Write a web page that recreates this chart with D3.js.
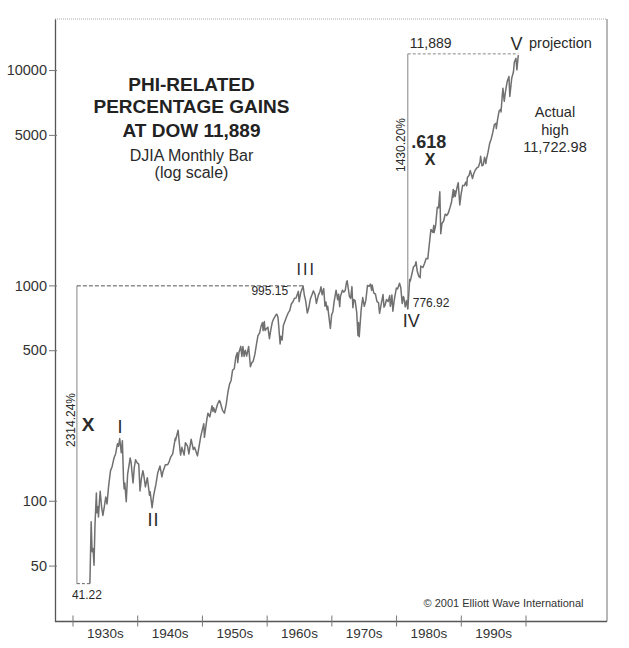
<!DOCTYPE html>
<html>
<head>
<meta charset="utf-8">
<script src="https://cdn.jsdelivr.net/npm/d3@7"></script>
<style>
  body { margin: 0; background: #fff; }
  svg { display: block; font-family: "Liberation Sans", Arial, Helvetica, sans-serif; }
</style>
</head>
<body>
<svg id="chart" width="629" height="648"></svg>
<script>

// DJIA at roughly quarterly steps: [year, value]
var dow1930s = [
    [1932.50, 41.2], [1932.70, 79.9], [1932.85, 58], [1933.00, 60], [1933.15, 50.2],
    [1933.30, 77], [1933.52, 108.7], [1933.60, 88], [1933.75, 94], [1933.85, 84],
    [1934.00, 99], [1934.12, 110.7], [1934.35, 93], [1934.55, 85.5], [1934.75, 93],
    [1935.00, 104], [1935.20, 96.7], [1935.45, 117], [1935.75, 138], [1936.00, 144],
    [1936.30, 158], [1936.55, 165], [1936.85, 184], [1937.00, 179], [1937.20, 194.4],
    [1937.45, 167], [1937.62, 190], [1937.80, 125], [1937.90, 113.6], [1938.00, 121],
    [1938.23, 99], [1938.45, 133], [1938.85, 158], [1939.00, 150], [1939.30, 121],
    [1939.50, 143], [1939.70, 155], [1939.95, 150]
];
var dow1940s = [
    [1940.20, 148], [1940.40, 111], [1940.60, 126], [1940.85, 138], [1941.00, 131],
    [1941.25, 116], [1941.55, 128], [1941.90, 106], [1942.00, 110], [1942.30, 92.9],
    [1942.55, 106], [1942.90, 119], [1943.20, 135], [1943.55, 145], [1943.85, 129],
    [1944.00, 136], [1944.40, 147], [1944.75, 147], [1945.00, 152], [1945.25, 160],
    [1945.55, 165], [1945.95, 195], [1946.00, 191], [1946.40, 212.5], [1946.70, 172],
    [1946.80, 163], [1947.00, 177], [1947.35, 163], [1947.55, 186], [1947.90, 179],
    [1948.10, 165], [1948.45, 193], [1948.80, 173], [1949.00, 177], [1949.45, 161.6],
    [1949.75, 182], [1949.99, 200]
];
var dow1950s = [
    [1950.45, 228], [1950.55, 197], [1950.90, 235], [1951.10, 255], [1951.40, 245],
    [1951.75, 276], [1951.90, 260], [1952.00, 270], [1952.25, 257], [1952.60, 280],
    [1952.90, 292], [1953.00, 290], [1953.40, 263], [1953.70, 255], [1953.99, 281],
    [1954.25, 319], [1954.50, 347], [1954.75, 362], [1954.99, 404], [1955.25, 410],
    [1955.50, 465], [1955.72, 487], [1955.80, 438], [1955.99, 488], [1956.28, 521],
    [1956.45, 468], [1956.62, 520], [1956.80, 468], [1956.99, 500], [1957.20, 470],
    [1957.52, 520], [1957.80, 419], [1957.99, 436], [1958.25, 446], [1958.50, 478],
    [1958.75, 532], [1958.99, 584], [1959.25, 602], [1959.50, 650], [1959.70, 672],
    [1959.80, 617], [1959.99, 679]
];
var dow1960s = [
    [1960.10, 618], [1960.35, 630], [1960.55, 640], [1960.80, 566], [1960.99, 616],
    [1961.25, 676], [1961.50, 703], [1961.90, 735], [1962.00, 731], [1962.15, 710],
    [1962.48, 535], [1962.60, 580], [1962.80, 558], [1962.99, 652], [1963.25, 683],
    [1963.50, 715], [1963.75, 745], [1963.99, 763], [1964.25, 820], [1964.50, 840],
    [1964.75, 872], [1964.99, 874], [1965.35, 938], [1965.48, 840], [1965.75, 930],
    [1965.99, 969], [1966.10, 995], [1966.30, 900], [1966.50, 850], [1966.77, 744],
    [1966.99, 785], [1967.25, 865], [1967.50, 904], [1967.72, 943], [1967.99, 905],
    [1968.20, 825], [1968.50, 899], [1968.75, 935], [1968.92, 985], [1969.10, 905],
    [1969.35, 968], [1969.55, 801], [1969.70, 837], [1969.90, 770], [1969.99, 800]
];
var dow1970s = [
    [1970.10, 745], [1970.40, 631], [1970.60, 730], [1970.80, 755], [1970.99, 839],
    [1971.30, 950], [1971.55, 858], [1971.70, 910], [1971.87, 797], [1971.99, 890],
    [1972.30, 950], [1972.50, 930], [1972.75, 950], [1972.95, 1036], [1973.05, 1051],
    [1973.40, 890], [1973.60, 870], [1973.80, 987], [1973.95, 788], [1974.10, 860],
    [1974.30, 850], [1974.55, 750], [1974.75, 585], [1974.83, 673], [1974.95, 578],
    [1975.25, 770], [1975.50, 878], [1975.75, 800], [1975.99, 852], [1976.25, 1000],
    [1976.50, 990], [1976.72, 1014], [1976.90, 950], [1976.99, 1004], [1977.25, 920],
    [1977.50, 912], [1977.75, 840], [1977.99, 831], [1978.15, 742], [1978.45, 830],
    [1978.70, 907], [1978.85, 792], [1978.99, 805], [1979.25, 860], [1979.50, 841],
    [1979.75, 897], [1979.85, 800], [1979.99, 838]
];
var dow1980s = [
    [1980.10, 903], [1980.25, 759], [1980.50, 867], [1980.80, 972], [1980.99, 963],
    [1981.30, 1024], [1981.50, 976], [1981.72, 824], [1981.90, 888], [1981.99, 875],
    [1982.20, 795], [1982.40, 850], [1982.60, 777], [1982.75, 903], [1982.90, 1065],
    [1982.99, 1046], [1983.25, 1130], [1983.50, 1220], [1983.75, 1235], [1983.90, 1287],
    [1984.10, 1160], [1984.35, 1100], [1984.55, 1086], [1984.65, 1230], [1984.99, 1211],
    [1985.25, 1266], [1985.50, 1335], [1985.75, 1328], [1985.99, 1546], [1986.25, 1818],
    [1986.55, 1763], [1986.70, 1900], [1986.75, 1760], [1986.99, 1896], [1987.25, 2305],
    [1987.45, 2290], [1987.65, 2722], [1987.80, 1738], [1987.99, 1939], [1988.25, 1990],
    [1988.50, 2141], [1988.75, 2112], [1988.99, 2169], [1989.25, 2293], [1989.50, 2440],
    [1989.77, 2791], [1989.80, 2570], [1989.99, 2753]
];
var dow1990s = [
    [1990.08, 2590], [1990.40, 2880], [1990.55, 3000], [1990.80, 2365], [1990.99, 2634],
    [1991.25, 2914], [1991.50, 2906], [1991.75, 3017], [1991.90, 2900], [1991.99, 3169],
    [1992.25, 3236], [1992.45, 3413], [1992.80, 3136], [1992.99, 3301], [1993.25, 3436],
    [1993.50, 3516], [1993.75, 3555], [1993.99, 3754], [1994.08, 3978], [1994.30, 3590],
    [1994.50, 3624], [1994.70, 3940], [1994.90, 3680], [1994.99, 3834], [1995.25, 4157],
    [1995.50, 4556], [1995.75, 4789], [1995.99, 5117], [1996.25, 5587], [1996.50, 5655],
    [1996.55, 5350], [1996.75, 5882], [1996.99, 6448], [1997.25, 6583], [1997.30, 6390],
    [1997.50, 7673], [1997.60, 8223], [1997.80, 7161], [1997.99, 7908], [1998.25, 8800],
    [1998.55, 9337], [1998.68, 7539], [1998.99, 9181], [1999.25, 9786], [1999.40, 10900],
    [1999.65, 11326], [1999.80, 10019], [1999.99, 11497], [2000.04, 11723]
];

var yTicks = [50, 100, 500, 1000, 5000, 10000];
var decadeEdges = [1930, 1940, 1950, 1960, 1970, 1980, 1990, 2000];
var decadeLabels = ["1930s", "1940s", "1950s", "1960s", "1970s", "1980s", "1990s"];

// wave pivots: date and level
var pivotDates = { low1932: 1932.5, top1966: 1966.1, low1982: 1982.6, top2000: 2000.04 };
var pivotLevels = { low1932: 41.22, top1966: 995.15, low1982: 776.92, target: 11889 };

var titleLines = ["PHI-RELATED", "PERCENTAGE GAINS", "AT DOW 11,889"];
var subLines = ["DJIA Monthly Bar", "(log scale)"];
var actualLines = ["Actual", "high", "11,722.98"];

var frame = { left: 55, right: 607, top: 19, bottom: 621.5 };

var svg = d3.select("#chart");

var x = d3.scaleLinear().domain([1927, 2014]).range([frame.left, frame.right]);
var xDecade = d3.scaleLinear().domain([1930, 2000]).range([73, 526]);
var y = d3.scaleLog().domain([27.5, 17260]).range([frame.bottom, frame.top]);

var dow = [].concat(dow1930s, dow1940s, dow1950s, dow1960s, dow1970s, dow1980s, dow1990s);

// frame: dotted top, plain right
svg.append("line")
    .attr("x1", frame.left).attr("x2", frame.right)
    .attr("y1", frame.top).attr("y2", frame.top)
    .attr("stroke", "#aaa").attr("stroke-dasharray", "1,1");
svg.append("line")
    .attr("x1", frame.right).attr("x2", frame.right)
    .attr("y1", frame.top).attr("y2", frame.bottom)
    .attr("stroke", "#888").attr("stroke-width", 1.2);

// y axis
var yAxis = svg.append("g")
    .attr("transform", "translate(" + frame.left + ",0)")
    .call(d3.axisLeft(y).tickValues(yTicks).tickFormat(d3.format("d")).tickSize(6).tickPadding(2).tickSizeOuter(0));
yAxis.select(".domain").attr("stroke", "#555").attr("stroke-width", 1.3);
yAxis.selectAll(".tick line").attr("x1", 2).attr("stroke", "#777");
yAxis.selectAll(".tick text").attr("font-size", 14.5).attr("fill", "#333")
    .attr("font-family", "Liberation Sans, Arial, sans-serif");

// x axis: decade ticks crossing the baseline, labels in between
svg.append("line")
    .attr("x1", frame.left).attr("x2", frame.right)
    .attr("y1", frame.bottom).attr("y2", frame.bottom)
    .attr("stroke", "#555").attr("stroke-width", 1.3);
svg.selectAll(".dtick").data(decadeEdges).enter().append("line")
    .attr("x1", function(d) { return xDecade(d); })
    .attr("x2", function(d) { return xDecade(d); })
    .attr("y1", frame.bottom - 6).attr("y2", frame.bottom + 5)
    .attr("stroke", "#777");
svg.selectAll(".dlabel").data(decadeLabels).enter().append("text")
    .attr("x", function(d, i) { return (xDecade(decadeEdges[i]) + xDecade(decadeEdges[i + 1])) / 2; })
    .attr("y", 637.5)
    .attr("text-anchor", "middle")
    .attr("font-size", 13.5).attr("fill", "#333")
    .text(function(d) { return d; });

// brackets
var xL = x(pivotDates.low1932) - 13;
svg.append("line")
    .attr("x1", xL).attr("x2", xL)
    .attr("y1", y(pivotLevels.top1966)).attr("y2", y(pivotLevels.low1932))
    .attr("stroke", "#999").attr("stroke-width", 1.2);
svg.append("line")
    .attr("x1", xL).attr("x2", x(pivotDates.top1966))
    .attr("y1", y(pivotLevels.top1966)).attr("y2", y(pivotLevels.top1966))
    .attr("stroke", "#555").attr("stroke-dasharray", "4,2");
svg.append("line")
    .attr("x1", xL).attr("x2", x(pivotDates.low1932))
    .attr("y1", y(pivotLevels.low1932)).attr("y2", y(pivotLevels.low1932))
    .attr("stroke", "#666").attr("stroke-dasharray", "3,2");

var xR = x(pivotDates.low1982);
svg.append("line")
    .attr("x1", xR).attr("x2", xR)
    .attr("y1", y(pivotLevels.target)).attr("y2", y(pivotLevels.low1982))
    .attr("stroke", "#999").attr("stroke-width", 1.2);
svg.append("line")
    .attr("x1", xR).attr("x2", x(pivotDates.top2000))
    .attr("y1", y(pivotLevels.target)).attr("y2", y(pivotLevels.target))
    .attr("stroke", "#888").attr("stroke-dasharray", "3,2");

// the Dow
var line = d3.line()
    .x(function(d) { return x(d[0]); })
    .y(function(d) { return y(d[1]); });
svg.append("path")
    .datum(dow)
    .attr("d", line)
    .attr("fill", "none")
    .attr("stroke", "#707070")
    .attr("stroke-width", 1.5)
    .attr("stroke-linejoin", "round");

// text
function label(txt, px, py, opts) {
    opts = opts || {};
    var t = svg.append("text")
        .attr("x", px).attr("y", py)
        .attr("font-size", opts.size || 12)
        .attr("font-weight", opts.bold ? "bold" : "normal")
        .attr("text-anchor", opts.anchor || "start")
        .attr("fill", opts.fill || "#2a2a2a")
        .text(txt);
    if (opts.spacing) t.attr("letter-spacing", opts.spacing);
    if (opts.rotate) t.attr("transform", "rotate(-90," + px + "," + py + ")");
    return t;
}

var titleY = [90.5, 113, 136.5];
titleLines.forEach(function(s, i) { label(s, 191.5, titleY[i], { size: 19, bold: true, anchor: "middle", fill: "#222" }); });
label(subLines[0], 191.5, 160.5, { size: 16, anchor: "middle" });
label(subLines[1], 191.5, 178, { size: 16, anchor: "middle" });

label("995.15", x(pivotDates.top1966) - 15, 295, { size: 12, anchor: "end" });
label("III", x(pivotDates.top1966) - 6.5, 275, { size: 16, spacing: 2 });
label("776.92", xR + 5, 306.5, { size: 12 });
label("IV", xR - 5, 327, { size: 18 });
label("I", 120, 433, { size: 18, anchor: "middle" });
label("II", 153.5, 526, { size: 18, anchor: "middle", spacing: 1 });
label("X", 88, 430.5, { size: 19, bold: true, anchor: "middle" });
label("2314.24%", xL - 2, 420, { size: 12, anchor: "middle", rotate: true });
label("41.22", xL - 5, 598.5, { size: 12 });

label("1430.20%", xR - 3, 145, { size: 12, anchor: "middle", rotate: true });
label(".618", xR + 3.5, 147.5, { size: 18, bold: true });
label("X", 430, 164.5, { size: 16, bold: true, anchor: "middle" });
label("11,889", xR + 2, 48, { size: 14 });
label("V", x(pivotDates.top2000) - 8, 49.5, { size: 18 });
label("projection", 529, 48, { size: 14.5 });

var actualY = [117, 134.5, 152];
actualLines.forEach(function(s, i) { label(s, 555, actualY[i], { size: 14.5, anchor: "middle" }); });

label("\u00a9 2001 Elliott Wave International", 583.5, 606.5, { size: 11, anchor: "end", fill: "#333" });

</script>
</body>
</html>
